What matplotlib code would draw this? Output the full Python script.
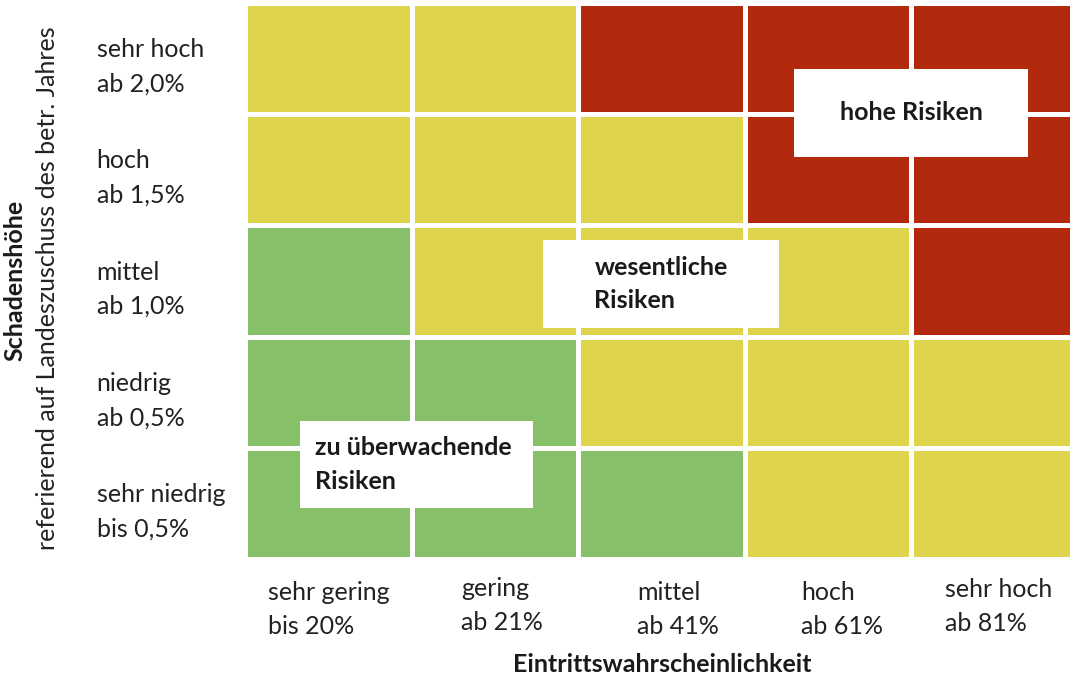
import matplotlib
matplotlib.use("Agg")
import matplotlib.pyplot as plt
from matplotlib.patches import Rectangle
from matplotlib.transforms import ScaledTranslation

plt.rcParams['font.family'] = ['Lato', 'DejaVu Sans']

# ---- data ----
x_labels = ["sehr gering\nbis 20%", "gering\nab 21%", "mittel\nab 41%", "hoch\nab 61%", "sehr hoch\nab 81%"]
y_labels = ["sehr niedrig\nbis 0,5%", "niedrig\nab 0,5%", "mittel\nab 1,0%", "hoch\nab 1,5%", "sehr hoch\nab 2,0%"]
# risk class per cell, rows from bottom (sehr niedrig) to top (sehr hoch)
risk_grid = [
    ["G", "G", "G", "Y", "Y"],
    ["G", "G", "Y", "Y", "Y"],
    ["G", "Y", "Y", "Y", "R"],
    ["Y", "Y", "Y", "R", "R"],
    ["Y", "Y", "R", "R", "R"],
]
zone_labels = ["zu überwachende\nRisiken", "wesentliche\nRisiken", "hohe Risiken"]
x_title = "Eintrittswahrscheinlichkeit"
y_title = "Schadenshöhe"
y_subtitle = "referierend auf Landeszuschuss des betr. Jahres"

colors = {"G": "#86C16A", "Y": "#DFD54D", "R": "#B3290E"}

W, H = 1070, 684
fig = plt.figure(figsize=(W / 100, H / 100), dpi=100)
ax = fig.add_axes([248 / W, (H - 557) / H, (W - 248) / W, (557 - 6) / H])

gx, gy = 0.03, 0.045
for r, row in enumerate(risk_grid):
    for c, cls in enumerate(row):
        ax.add_patch(Rectangle((c, r), 1 - gx, 1 - gy, facecolor=colors[cls], edgecolor="none"))

ax.set_xlim(0, 822 / 166.5)
ax.set_ylim(0, 5 - gy)
for s in ax.spines.values():
    s.set_visible(False)

fs = 18
ax.set_xticks([c + (1 - gx) / 2 for c in range(5)])
ax.set_xticklabels(x_labels, fontsize=fs, color="#222222", multialignment="left", linespacing=1.6)
ax.set_yticks([r + (1 - gy) / 2 for r in range(5)])
ax.set_yticklabels(y_labels, fontsize=fs, color="#222222", ha="left", linespacing=1.6)
ax.tick_params(axis="x", length=0, pad=17)
ax.tick_params(axis="y", length=0, pad=109)

# small nudges of x tick labels (pixels) to follow the original layout
x_nudge_px = [0, 7, 16, 14, 4]
x_nudge_py = [0, 4, 0, 0, 3]
for lab, dx, dy in zip(ax.get_xticklabels(), x_nudge_px, x_nudge_py):
    lab.set_transform(lab.get_transform() + ScaledTranslation(dx / 100, dy / 100, fig.dpi_scale_trans))

# zone boxes
boxes = [
    (0.312, 0.441, 1.712 - 0.312, 1.223 - 0.441, 0.40, "left"),
    (1.772, 2.060, 3.190 - 1.772, 2.851 - 2.060, 2.08, "left"),
    (3.280, 3.600, 4.685 - 3.280, 4.390 - 3.600, None, "center"),
]
for (x0, y0, w, h, tx, ha), lab in zip(boxes, zone_labels):
    ax.add_patch(Rectangle((x0, y0), w, h, facecolor="white", edgecolor="none", zorder=3))
    if ha == "left":
        ax.text(tx, y0 + h / 2, lab, ha="left", va="center", fontsize=fs, fontweight="bold",
                color="#1a1a1a", zorder=4, linespacing=1.55)
    else:
        ax.text(x0 + w / 2, y0 + h / 2, lab, ha="center", va="center", fontsize=fs, fontweight="bold",
                color="#1a1a1a", zorder=4)

fig.text(662 / W, 1 - 665 / H, x_title, ha="center", va="center", fontsize=fs, fontweight="bold", color="#1a1a1a")
fig.text(15 / W, 1 - 280 / H, y_title, ha="center", va="center", rotation=90, fontsize=fs, fontweight="bold", color="#1a1a1a")
fig.text(48 / W, 1 - 288 / H, y_subtitle, ha="center", va="center", rotation=90, fontsize=fs, color="#222222")

fig.savefig("out.png", dpi=100)
